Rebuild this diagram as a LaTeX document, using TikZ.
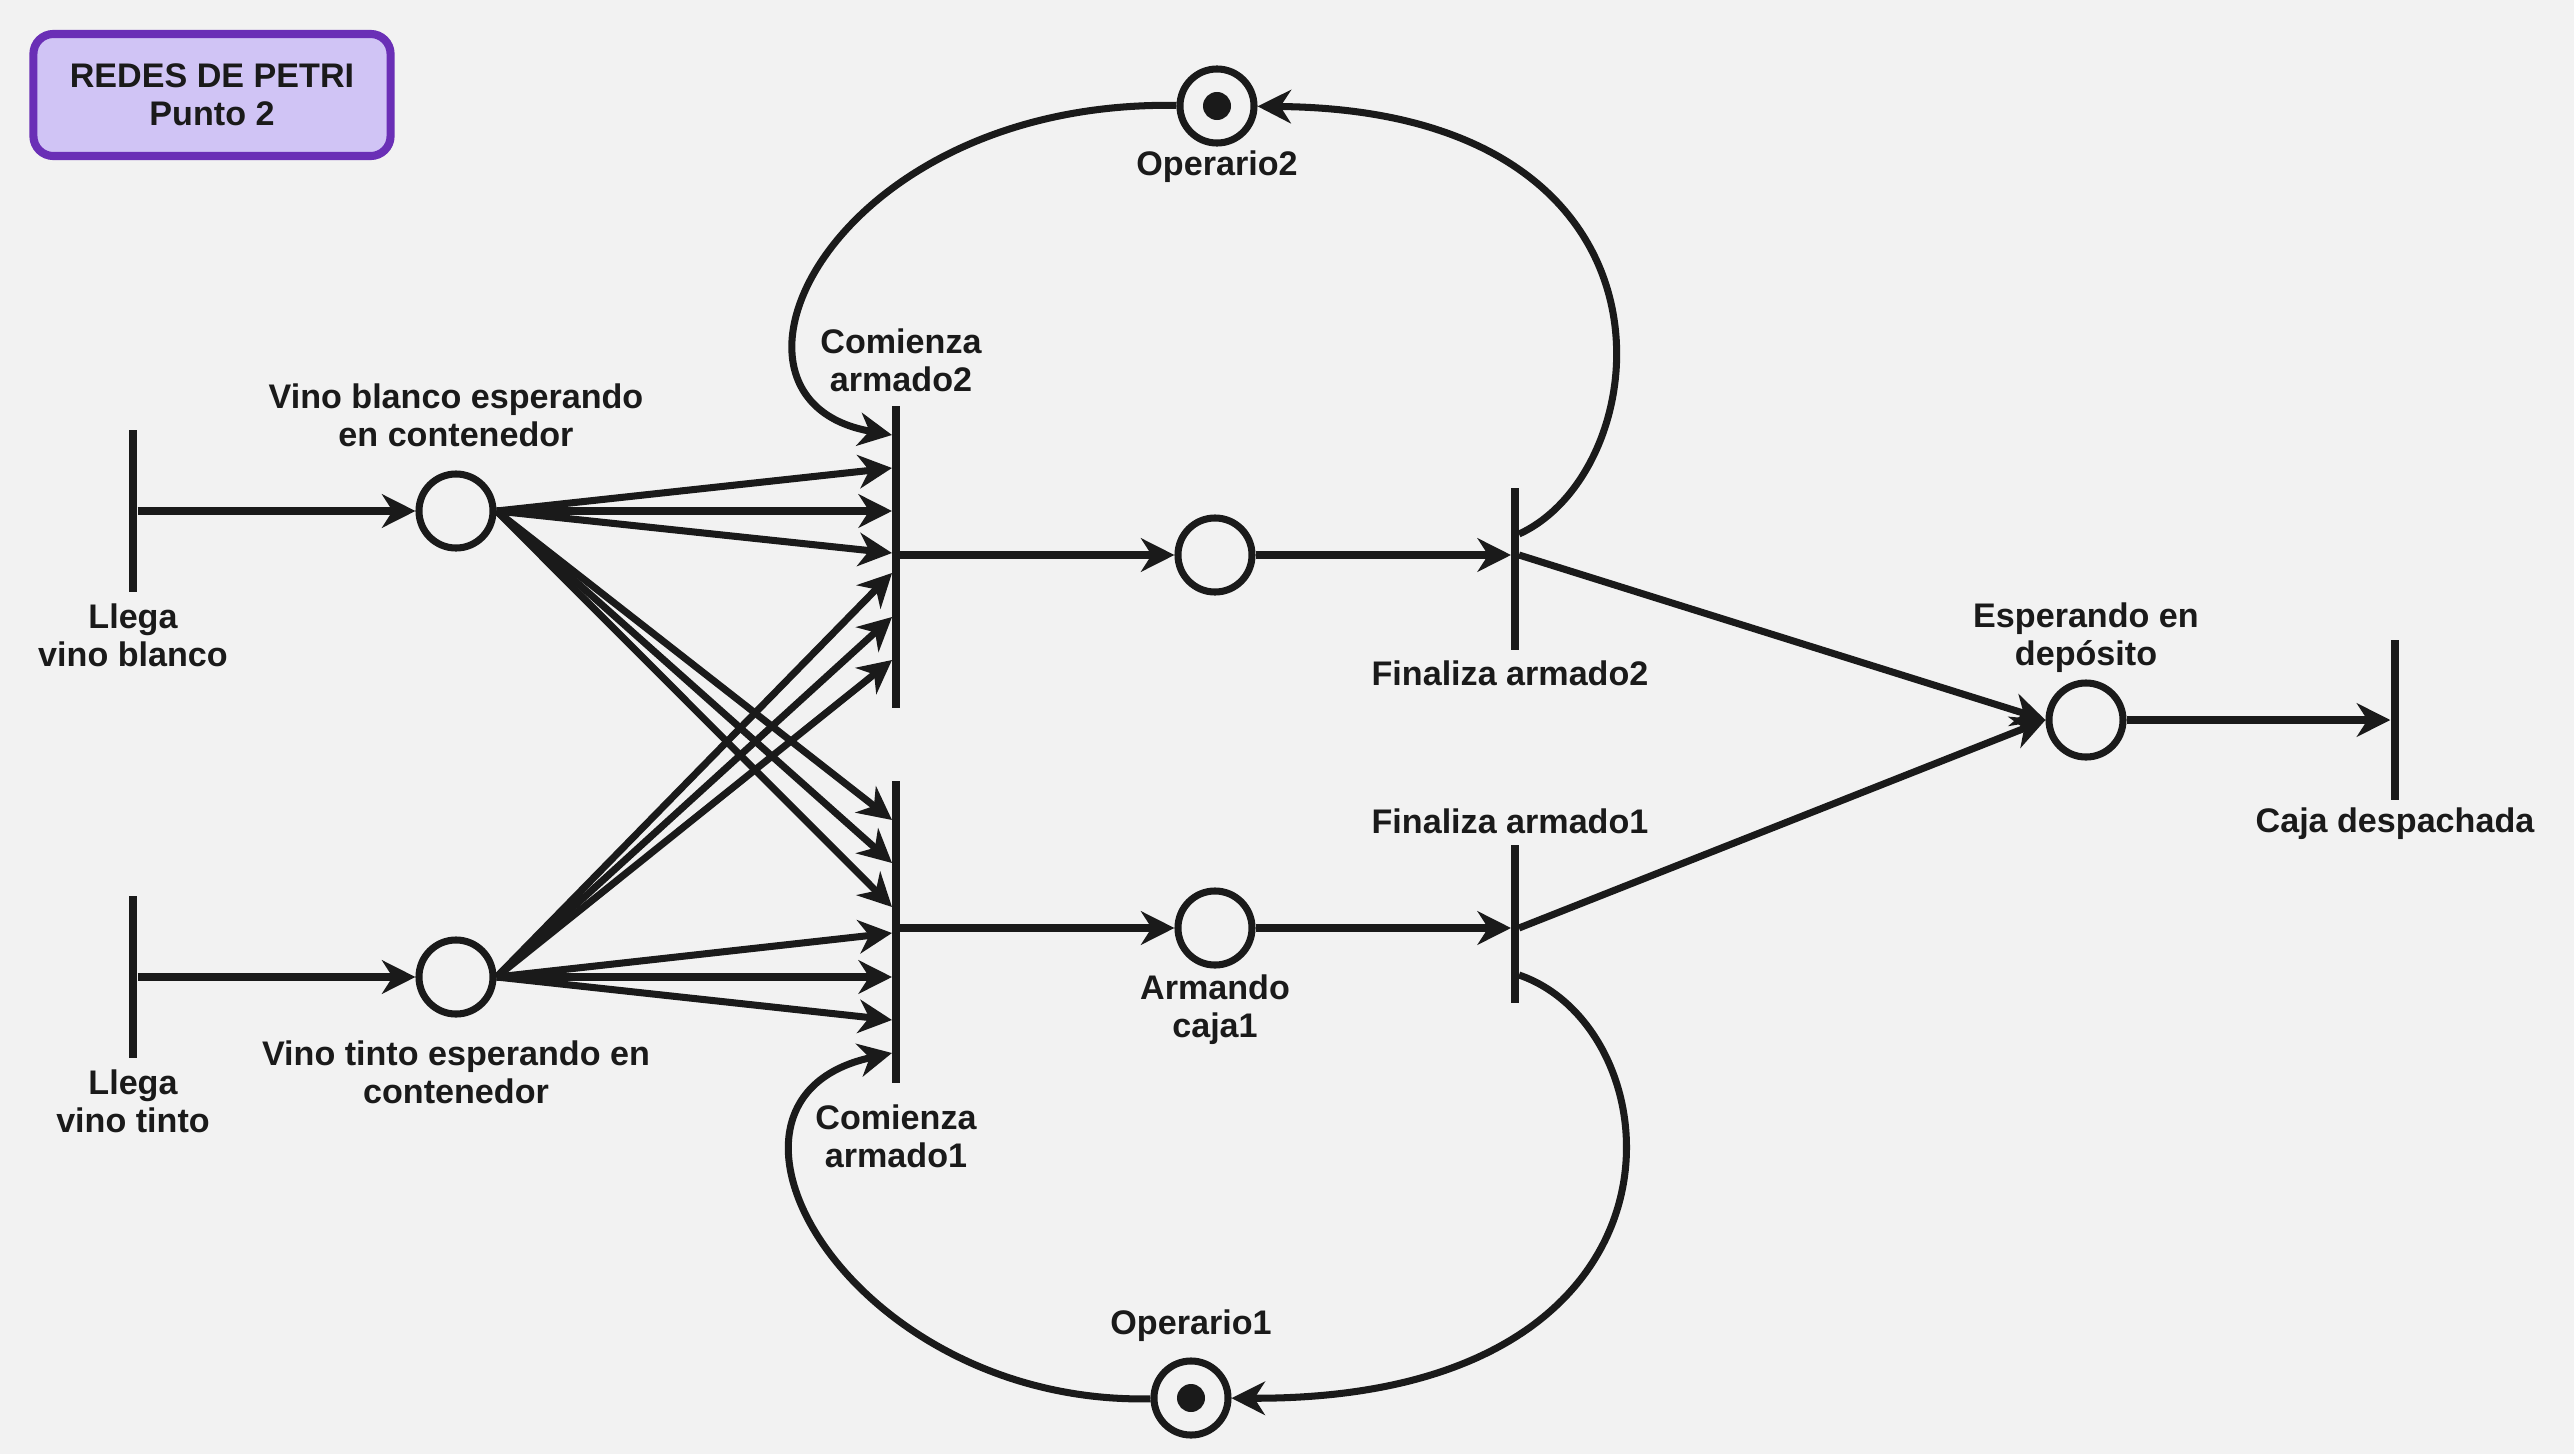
\documentclass[tikz,border=0pt]{standalone}
\usepackage{fontspec}
\setmainfont{Liberation Sans}
\usepackage{tikz}
\usetikzlibrary{arrows.meta}

\definecolor{ink}{HTML}{1A1A1A}
\definecolor{paper}{HTML}{F2F2F2}
\definecolor{titlefill}{HTML}{D0C4F5}
\definecolor{titledraw}{HTML}{6A2FB6}

\tikzset{
  place/.style={circle, draw=ink, line width=2pt, minimum size=0.74cm, inner sep=0pt},
  token/.style={place, path picture={\fill[ink] (path picture bounding box.center) circle (0.14cm);}},
  tbar/.style={fill=ink, inner sep=0pt, minimum width=0.08cm},
  flow/.style={draw=ink, line width=2pt, -{Stealth[length=9.5pt, width=9.5pt, inset=3pt]}},
  lbl/.style={font=\bfseries\fontsize{9.7}{10.8}\selectfont, text=ink, align=center, inner sep=0pt},
}

\begin{document}
\begin{tikzpicture}[x=0.01cm, y=-0.01cm]
  % Background
  \fill[paper] (0,0) rectangle (2574,1454);
  \useasboundingbox (0,0) rectangle (2574,1454);

  % Title
  \node[lbl, draw=titledraw, fill=titlefill, line width=2.3pt, rounded corners=0.2cm,
        minimum width=3.57cm, minimum height=1.22cm] (title) at (212,95) {REDES DE PETRI\\Punto 2};

  % Transitions
  \node[tbar, minimum height=1.62cm] (lvb) at (133,511) {};
  \node[tbar, minimum height=1.62cm] (lvt) at (133,977) {};
  \node[tbar, minimum height=3.01cm] (ca2) at (896,557) {};
  \node[tbar, minimum height=3.01cm] (ca1) at (896,932) {};
  \node[tbar, minimum height=1.61cm] (fa2) at (1515,569) {};
  \node[tbar, minimum height=1.58cm] (fa1) at (1515,924) {};
  \node[tbar, minimum height=1.60cm] (cd) at (2395,720) {};

  % Places
  \node[place] (vb) at (456,511) {};
  \node[place] (vt) at (456,977) {};
  \node[place] (ar2) at (1215,555) {};
  \node[place] (ar1) at (1215,928) {};
  \node[place] (esp) at (2086,720) {};
  \node[token] (op2) at (1217,106) {};
  \node[token] (op1) at (1191,1398) {};

  % Labels
  \node[lbl] (lvb-l) at (133,635) {Llega\\vino blanco};
  \node[lbl] (lvt-l) at (133,1101) {Llega\\vino tinto};
  \node[lbl] (vb-l) at (456,415) {Vino blanco esperando\\en contenedor};
  \node[lbl] (vt-l) at (456,1072) {Vino tinto esperando en\\contenedor};
  \node[lbl] (ca2-l) at (901,360) {Comienza\\armado2};
  \node[lbl] (ca1-l) at (896,1136) {Comienza\\armado1};
  \node[lbl] (ar1-l) at (1215,1010) {Armando\\caja1};
  \node[lbl] (fa2-l) at (1510,673) {Finaliza armado2};
  \node[lbl] (fa1-l) at (1510,821) {Finaliza armado1};
  \node[lbl] (esp-l) at (2086,638) {Esperando en\\depósito};
  \node[lbl] (cd-l) at (2395,824) {Caja despachada};
  \node[lbl] (op2-l) at (1217,167) {Operario2};
  \node[lbl] (op1-l) at (1191,1326) {Operario1};

  % Contact points on the transitions
  \foreach \y [count=\i] in {435,468,511,553,573,617,660}
      \coordinate (ca2-\i) at (892,\y);
  \foreach \y [count=\i] in {820,863,907,933,977,1020,1053}
      \coordinate (ca1-\i) at (892,\y);
  \coordinate (ca2-out) at (900,555);
  \coordinate (ca1-out) at (900,928);
  \coordinate (fa2-in) at (1511,555);
  \coordinate (fa2-out) at (1519,555);
  \coordinate (fa2-up) at (1519,534);
  \coordinate (fa1-in) at (1511,928);
  \coordinate (fa1-out) at (1519,928);
  \coordinate (fa1-down) at (1519,975);

  % Arrivals
  \draw[flow] (lvb) -- (vb);
  \draw[flow] (lvt) -- (vt);

  % Wine to assembly
  \foreach \i in {2,3,4}
      \draw[flow] (vb.east) -- (ca2-\i);
  \foreach \i in {5,6,7}
      \draw[flow] (vt.east) -- (ca2-\i);
  \foreach \i in {1,2,3}
      \draw[flow] (vb.east) -- (ca1-\i);
  \foreach \i in {4,5,6}
      \draw[flow] (vt.east) -- (ca1-\i);

  % Assembly
  \draw[flow] (ca2-out) -- (ar2);
  \draw[flow] (ar2) -- (fa2-in);
  \draw[flow] (ca1-out) -- (ar1);
  \draw[flow] (ar1) -- (fa1-in);

  % Storage and dispatch
  \draw[flow] (fa2-out) -- (esp.west);
  \draw[flow] (fa1-out) -- (esp.west);
  \draw[flow] (esp) -- (cd);

  % Operators
  \draw[flow] (fa2-up) .. controls (1660,470) and (1700,110) .. (op2);
  \draw[flow] (op2) .. controls (830,100) and (690,400) .. (ca2-1);
  \draw[flow] (fa1-down) .. controls (1680,1030) and (1710,1400) .. (op1);
  \draw[flow] (op1) .. controls (850,1405) and (675,1100) .. (ca1-7);
\end{tikzpicture}
\end{document}
